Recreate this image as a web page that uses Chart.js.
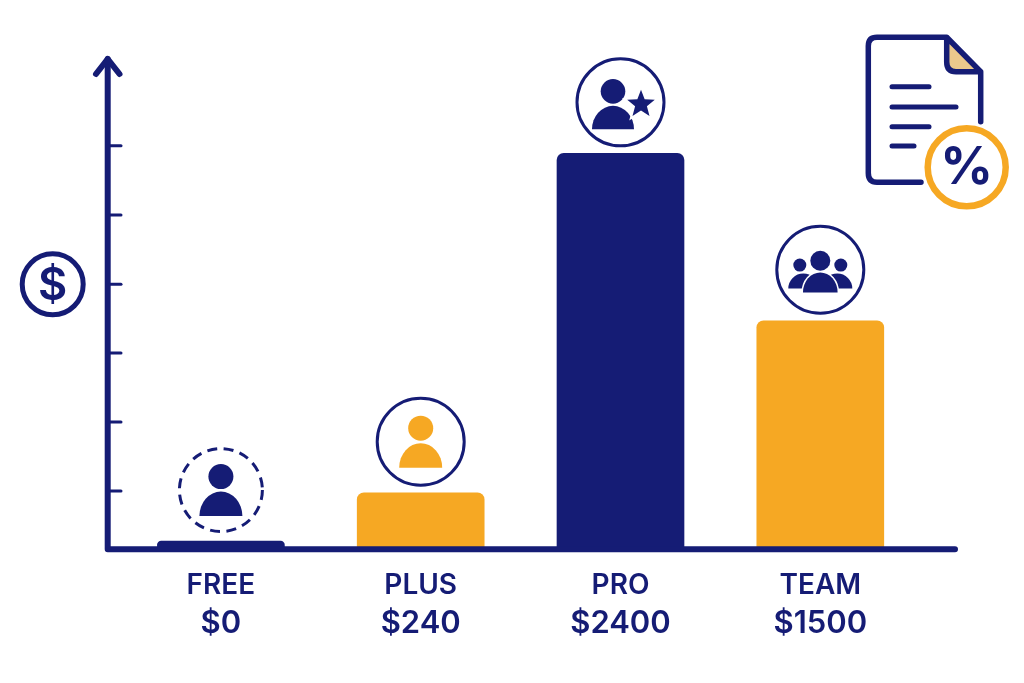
<!DOCTYPE html>
<html>
<head>
<meta charset="utf-8">
<title>Plans</title>
<script src="https://cdn.jsdelivr.net/npm/chart.js@4/dist/chart.umd.js"></script>
<style>
  html, body { margin: 0; padding: 0; background: #fff; }
  #wrap { position: relative; width: 1024px; height: 683px; }
</style>
</head>
<body>
<div id="wrap"><canvas id="plansChart" width="1024" height="683"></canvas></div>
<script>
const categories = ['FREE', 'PLUS', 'PRO', 'TEAM'];
const priceLabels = ['$0', '$240', '$2400', '$1500'];
// bar heights as drawn in the picture, they do not follow the printed prices
const barValues = [50, 343, 2400, 1385];
const tickValues = [353, 771, 1190, 1606, 2026, 2446];
const yMax = 2990;

const navy = '#151C75';
const orange = '#F6A823';
const tan = '#EBC88C';
const barColors = [navy, orange, navy, orange];
const iconStyles = ['free', 'plus', 'pro', 'team'];

function dome(ctx, cx, bottom, halfWidth, height) {
    ctx.beginPath();
    ctx.ellipse(cx, bottom, halfWidth, height, 0, Math.PI, 0);
    ctx.closePath();
    ctx.fill();
}

function disc(ctx, cx, cy, r) {
    ctx.beginPath();
    ctx.arc(cx, cy, r, 0, Math.PI * 2);
    ctx.fill();
}

function starPath(ctx, cx, cy, outer, inner) {
    ctx.beginPath();
    for (let i = 0; i < 10; i++) {
        const r = i % 2 ? inner : outer;
        const a = -Math.PI / 2 + i * Math.PI / 5;
        ctx.lineTo(cx + r * Math.cos(a), cy + r * Math.sin(a));
    }
    ctx.closePath();
}

function drawBadge(ctx, style, cx, cy) {
    ctx.save();
    ctx.strokeStyle = navy;
    ctx.fillStyle = navy;
    ctx.lineWidth = 3;
    ctx.beginPath();
    if (style === 'free') {
        ctx.setLineDash([10, 6.5]);
        ctx.arc(cx, cy, 41.5, 0, Math.PI * 2);
    } else {
        ctx.arc(cx, cy, 43.5, 0, Math.PI * 2);
    }
    ctx.stroke();
    ctx.setLineDash([]);

    if (style === 'free' || style === 'plus') {
        if (style === 'plus') ctx.fillStyle = orange;
        disc(ctx, cx, cy - 13.5, 12.5);
        dome(ctx, cx, cy + 26, 21.5, 24.5);
    } else if (style === 'pro') {
        disc(ctx, cx - 7.5, cy - 11, 12.3);
        dome(ctx, cx - 7.5, cy + 27, 21, 23.5);
        starPath(ctx, cx + 20.5, cy + 2, 14.5, 6.2);
        ctx.strokeStyle = '#fff';
        ctx.lineWidth = 4;
        ctx.stroke();
        ctx.fill();
    } else {
        disc(ctx, cx - 20.5, cy - 4.7, 6.5);
        disc(ctx, cx + 20.5, cy - 4.7, 6.5);
        dome(ctx, cx - 17, cy + 18.7, 15, 15);
        dome(ctx, cx + 17, cy + 18.7, 15, 15);
        ctx.strokeStyle = '#fff';
        ctx.lineWidth = 3;
        ctx.beginPath();
        ctx.ellipse(cx, cy + 22.7, 17.3, 20, 0, Math.PI, 0);
        ctx.closePath();
        ctx.stroke();
        ctx.fill();
        disc(ctx, cx, cy - 9, 10);
    }
    ctx.restore();
}

function drawDollarIcon(ctx) {
    ctx.save();
    ctx.strokeStyle = navy;
    ctx.fillStyle = navy;
    ctx.lineWidth = 5;
    ctx.beginPath();
    ctx.arc(52.7, 284.3, 30.5, 0, Math.PI * 2);
    ctx.stroke();
    ctx.font = '600 45px Inter';
    ctx.textAlign = 'center';
    ctx.textBaseline = 'middle';
    ctx.fillText('$', 52.7, 286);
    ctx.restore();
}

function drawDocIcon(ctx) {
    ctx.save();
    ctx.lineCap = 'round';
    ctx.lineJoin = 'round';

    ctx.fillStyle = tan;
    ctx.beginPath();
    ctx.moveTo(947, 38);
    ctx.lineTo(980, 71.5);
    ctx.lineTo(954, 71.5);
    ctx.quadraticCurveTo(947, 71.5, 947, 63);
    ctx.closePath();
    ctx.fill();

    ctx.strokeStyle = navy;
    ctx.lineWidth = 5.5;
    ctx.beginPath();
    ctx.moveTo(921, 182.3);
    ctx.lineTo(877, 182.3);
    ctx.quadraticCurveTo(868.3, 182.3, 868.3, 173);
    ctx.lineTo(868.3, 46);
    ctx.quadraticCurveTo(868.3, 37.3, 877, 37.3);
    ctx.lineTo(946.7, 37.3);
    ctx.lineTo(980.7, 71.7);
    ctx.lineTo(980.7, 121.7);
    ctx.moveTo(946.7, 37.3);
    ctx.lineTo(946.7, 62);
    ctx.quadraticCurveTo(946.7, 71.7, 956, 71.7);
    ctx.lineTo(980.7, 71.7);
    ctx.stroke();

    ctx.lineWidth = 5;
    [[86.7, 929], [107, 956], [126.7, 929], [146, 914]].forEach(([y, x2]) => {
        ctx.beginPath();
        ctx.moveTo(892, y);
        ctx.lineTo(x2, y);
        ctx.stroke();
    });

    ctx.fillStyle = '#fff';
    ctx.strokeStyle = orange;
    ctx.lineWidth = 6.5;
    ctx.beginPath();
    ctx.arc(966.7, 167.3, 39, 0, Math.PI * 2);
    ctx.fill();
    ctx.stroke();

    ctx.fillStyle = navy;
    ctx.font = '700 52px Inter';
    ctx.textAlign = 'center';
    ctx.textBaseline = 'middle';
    ctx.fillText('%', 966.7, 168);
    ctx.restore();
}

const decorations = {
    id: 'decorations',
    afterDatasetsDraw(chart) {
        const { ctx, scales } = chart;
        const base = scales.y.getPixelForValue(0);
        const top = scales.y.getPixelForValue(yMax);
        const axisX = 107.7;

        ctx.save();
        ctx.strokeStyle = navy;
        ctx.lineCap = 'round';
        ctx.lineJoin = 'round';

        // tick marks come from the y scale
        ctx.lineWidth = 3;
        scales.y.ticks.forEach(t => {
            const y = scales.y.getPixelForValue(t.value);
            ctx.beginPath();
            ctx.moveTo(axisX, y);
            ctx.lineTo(121, y);
            ctx.stroke();
        });

        // axes and arrow head
        ctx.lineWidth = 6;
        ctx.beginPath();
        ctx.moveTo(axisX, top + 3);
        ctx.lineTo(axisX, base);
        ctx.lineTo(955, base);
        ctx.stroke();
        ctx.beginPath();
        ctx.moveTo(96, 74);
        ctx.lineTo(axisX, top + 3);
        ctx.lineTo(119.5, 74);
        ctx.stroke();
        ctx.restore();

        chart.getDatasetMeta(0).data.forEach((bar, i) => {
            drawBadge(ctx, iconStyles[i], bar.x, bar.y - 51);
        });

        drawDollarIcon(ctx);
        drawDocIcon(ctx);
    }
};

new Chart(document.getElementById('plansChart'), {
    type: 'bar',
    data: {
        labels: categories,
        datasets: [{
            data: barValues,
            backgroundColor: barColors,
            borderWidth: 0,
            borderRadius: { topLeft: 7, topRight: 7, bottomLeft: 0, bottomRight: 0 },
            borderSkipped: false,
            barThickness: 127
        }]
    },
    options: {
        responsive: false,
        animation: false,
        layout: { padding: { left: 121, right: 103.8, top: 56, bottom: 33.7 } },
        plugins: { legend: { display: false }, tooltip: { enabled: false } },
        scales: {
            x: {
                weight: 1,
                border: { display: false },
                grid: { display: false, drawTicks: false },
                ticks: {
                    color: navy,
                    font: { family: 'Inter', size: 28, weight: '600' },
                    padding: 19,
                    maxRotation: 0,
                    autoSkip: false
                },
                afterFit: s => { s.height = 52; }
            },
            x2: {
                type: 'category',
                labels: priceLabels,
                position: 'bottom',
                offset: true,
                weight: 2,
                border: { display: false },
                grid: { display: false, drawTicks: false },
                ticks: {
                    color: navy,
                    font: { family: 'Inter', size: 31, weight: '600' },
                    padding: 4,
                    maxRotation: 0,
                    autoSkip: false
                },
                afterFit: s => { s.height = 48; }
            },
            y: {
                display: false,
                min: 0,
                max: yMax,
                afterBuildTicks: s => { s.ticks = tickValues.map(v => ({ value: v })); }
            }
        }
    },
    plugins: [decorations]
});
</script>
</body>
</html>
